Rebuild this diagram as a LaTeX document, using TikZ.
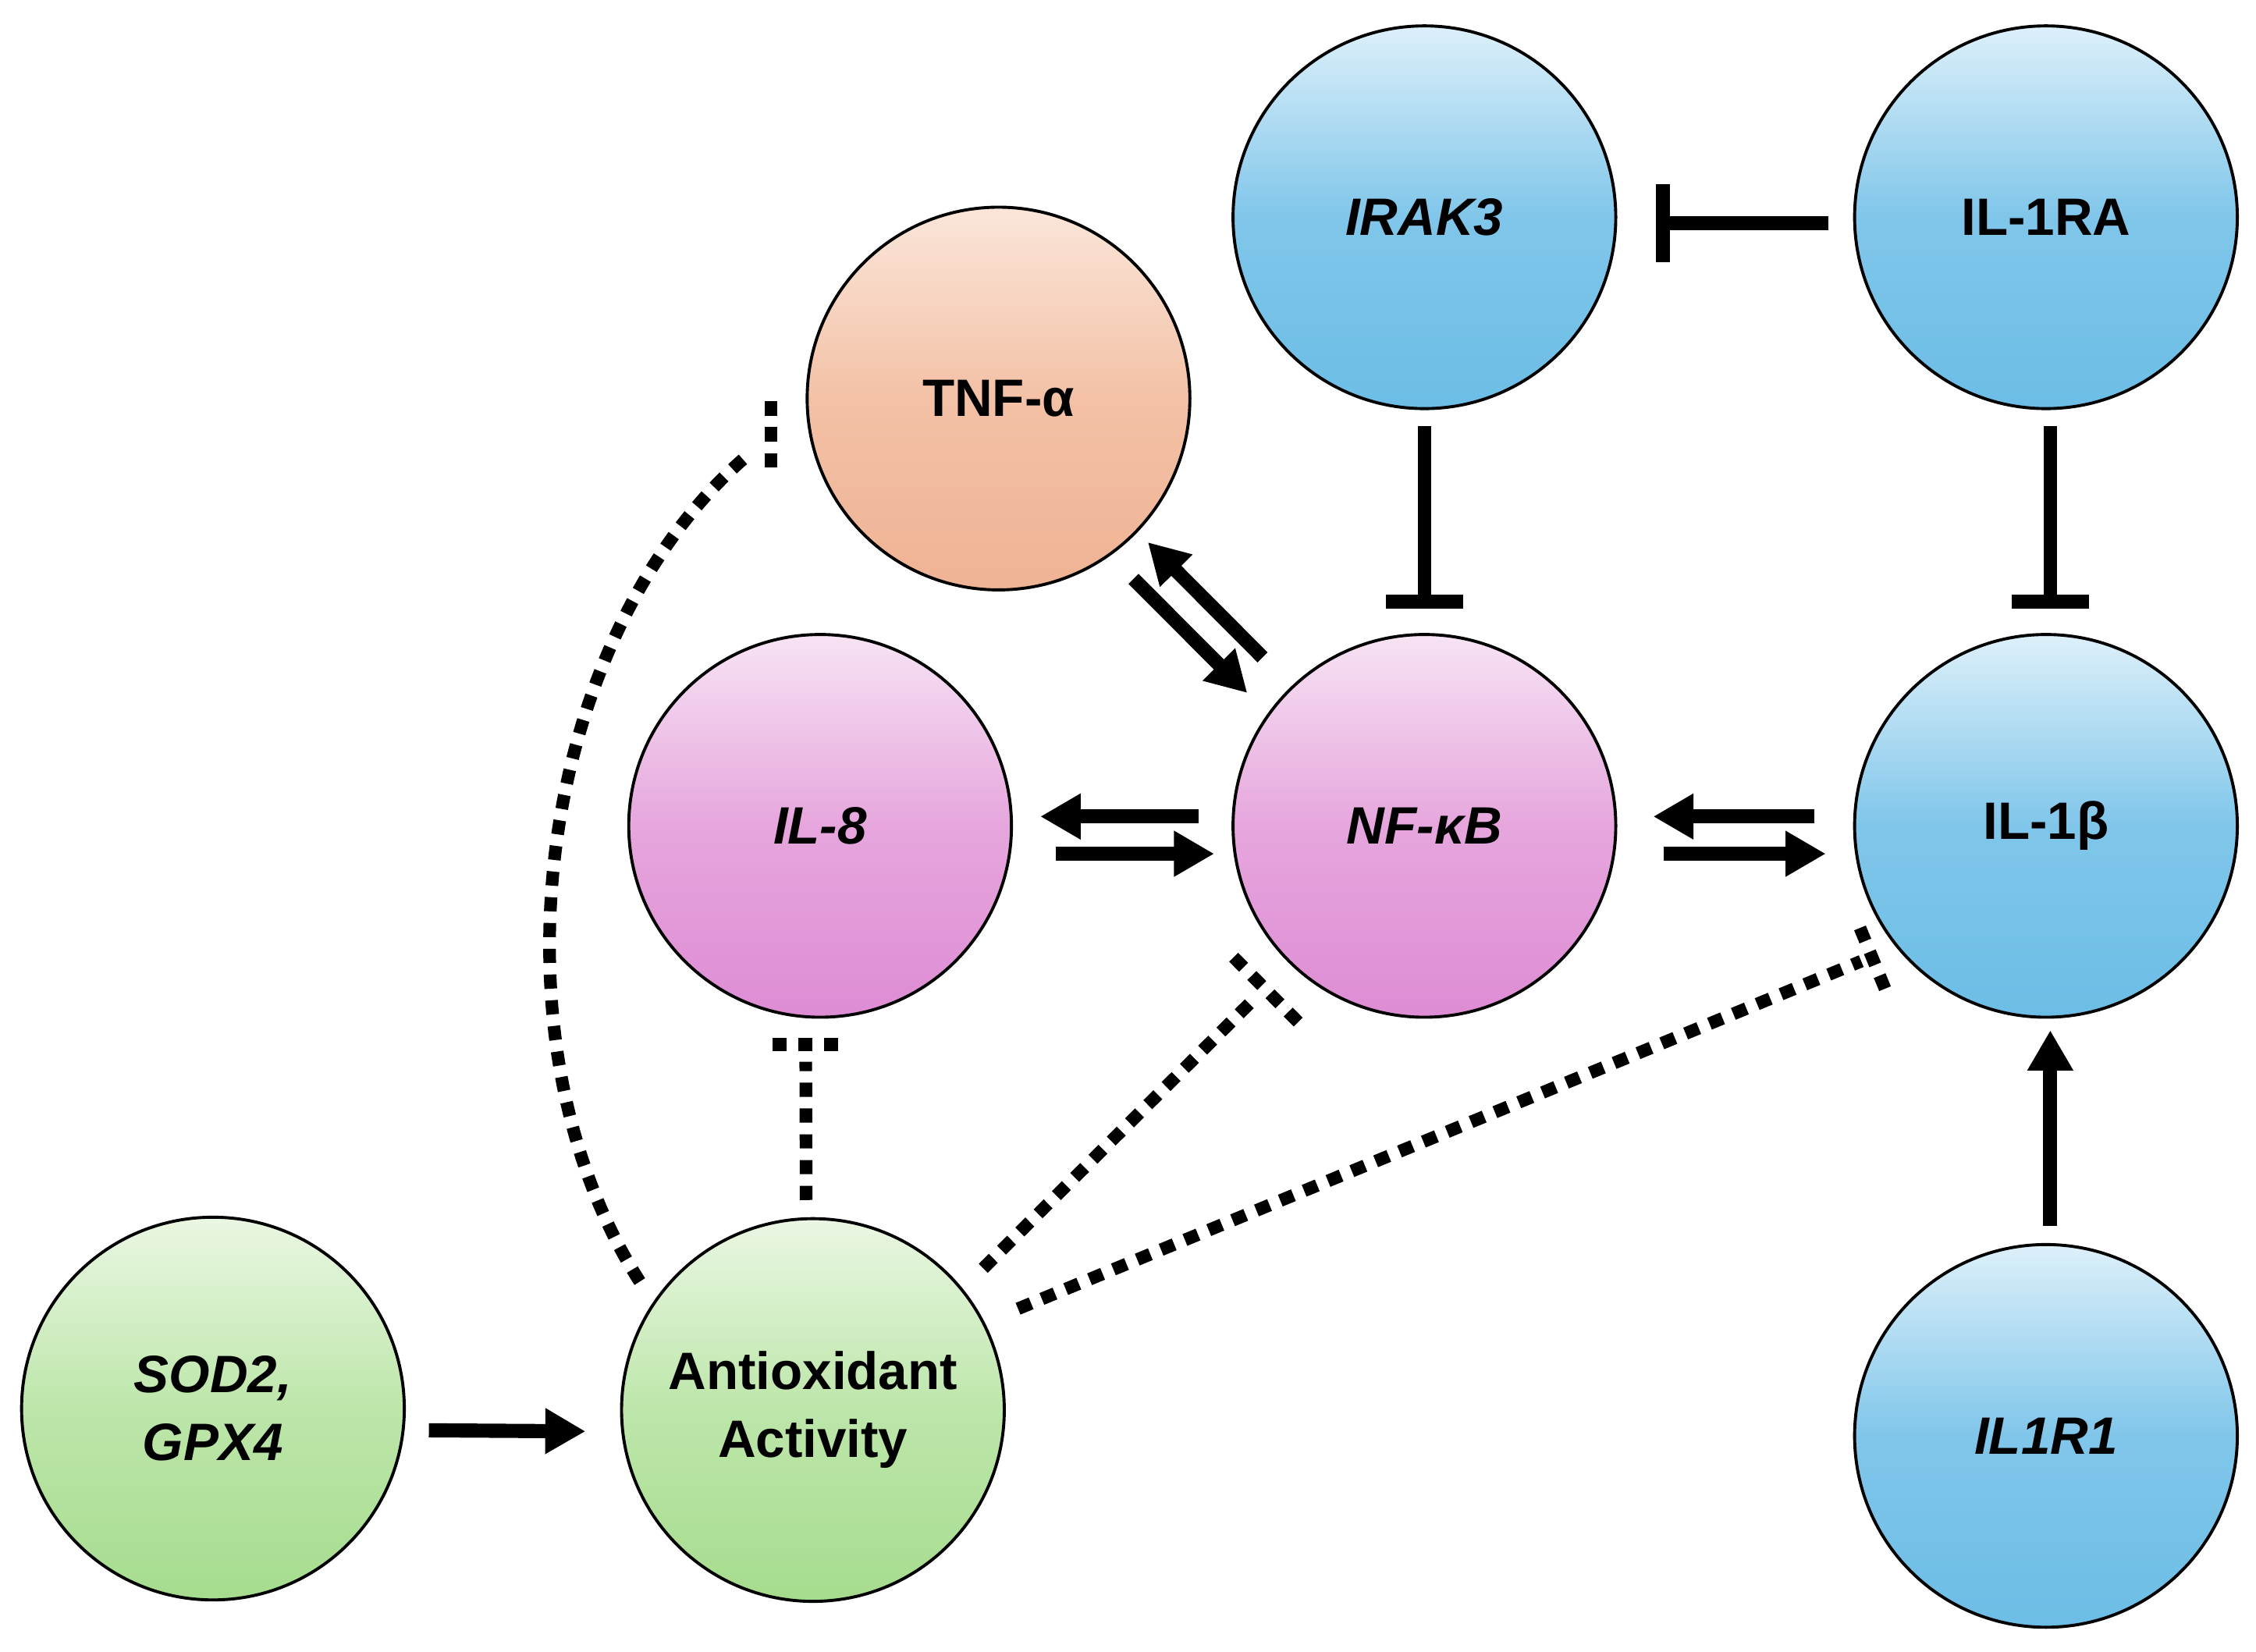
\documentclass[tikz,border=0pt]{standalone}
\usepackage{fontspec}
\setmainfont{Liberation Sans}
\usetikzlibrary{arrows.meta,calc}

\definecolor{blueTop}{HTML}{DDF0FA}
\definecolor{blueMid}{HTML}{80C6EA}
\definecolor{blueBot}{HTML}{6CBDE6}
\definecolor{orangeTop}{HTML}{FBE6DA}
\definecolor{orangeMid}{HTML}{F3C1A6}
\definecolor{orangeBot}{HTML}{EFB394}
\definecolor{pinkTop}{HTML}{F7E3F4}
\definecolor{pinkMid}{HTML}{E6A6DD}
\definecolor{pinkBot}{HTML}{DE8CD4}
\definecolor{greenTop}{HTML}{EAF7E3}
\definecolor{greenMid}{HTML}{BDE6AA}
\definecolor{greenBot}{HTML}{A6DC8E}

\begin{document}
\begin{tikzpicture}[
  gene/.style={circle, draw, line width=0.6pt, minimum size=2.66cm, inner sep=0pt,
    align=center, font=\bfseries\fontsize{10.4}{13.4}\selectfont},
  bluenode/.style={gene, top color=blueTop, bottom color=blueBot, middle color=blueMid},
  orangenode/.style={gene, top color=orangeTop, bottom color=orangeBot, middle color=orangeMid},
  pinknode/.style={gene, top color=pinkTop, bottom color=pinkBot, middle color=pinkMid},
  greennode/.style={gene, top color=greenTop, bottom color=greenBot, middle color=greenMid},
  fat/.style={line width=2.8pt, -{Triangle[length=0.28cm,width=0.3cm]}},
  block/.style={line width=2.7pt, -{Bar[width=0.54cm]}},
  dots/.style={line width=2.5pt, dash pattern=on 2.8pt off 2.3pt}
]

\useasboundingbox (0,0) rectangle (15.68,11.48);

\node [bluenode] (IRAK3) at (9.90,9.97) {\itshape IRAK3};
\node [bluenode] (IL1RA) at (14.22,9.97) {IL-1RA};
\node [orangenode] (TNF) at (6.94,8.71) {TNF-α};
\node [pinknode] (IL8) at (5.70,5.74) {\itshape IL-8};
\node [pinknode] (NFkB) at (9.90,5.74) {\itshape NF-κB};
\node [bluenode] (IL1b) at (14.22,5.74) {IL-1β};
\node [greennode] (SOD) at (1.48,1.69) {\itshape SOD2,\\ \itshape GPX4};
\node [greennode] (AOX) at (5.65,1.68) {Antioxidant\\Activity};
\node [bluenode] (IL1R1) at (14.22,1.50) {\itshape IL1R1};

\coordinate (tnfBar) at (5.36,8.45);
\coordinate (tnfEnd) at (5.19,8.31);
\coordinate (il8Bar) at (5.60,4.22);
\coordinate (nfBar) at (8.79,4.61);
\coordinate (il1bBar) at (13.01,4.83);

\draw [block, shorten <=0.17cm, shorten >=0.27cm] ([yshift=-0.04cm]IL1RA.west) -- ([yshift=-0.04cm]IRAK3.east);
\draw [block, shorten <=0.11cm, shorten >=0.17cm] (IRAK3.south) -- (NFkB.north);
\draw [block, shorten <=0.11cm, shorten >=0.17cm] ([xshift=0.03cm]IL1RA.south) -- ([xshift=0.03cm]IL1b.north);

\draw [fat, shorten <=0.23cm, shorten >=0.19cm] ([yshift=0.065cm]NFkB.west) -- ([yshift=0.065cm]IL8.east);
\draw [fat, shorten <=0.30cm, shorten >=0.12cm] ([yshift=-0.194cm]IL8.east) -- ([yshift=-0.194cm]NFkB.west);
\draw [fat, shorten <=0.27cm, shorten >=0.25cm] ([yshift=0.065cm]IL1b.west) -- ([yshift=0.065cm]NFkB.east);
\draw [fat, shorten <=0.32cm, shorten >=0.19cm] ([yshift=-0.194cm]NFkB.east) -- ([yshift=-0.194cm]IL1b.west);

\draw [fat] ($(TNF)!2.57cm!(NFkB)!0.03cm!90:(NFkB)$) -- ($(TNF)!1.44cm!(NFkB)!0.03cm!90:(NFkB)$);
\draw [fat] ($(TNF)!1.55cm!(NFkB)!0.22cm!-90:(NFkB)$) -- ($(TNF)!2.67cm!(NFkB)!0.22cm!-90:(NFkB)$);

\draw [fat, shorten <=0.12cm, shorten >=0.08cm] ([xshift=0.03cm]IL1R1.north) -- ([xshift=0.03cm]IL1b.south);
\draw [fat, shorten <=0.16cm, shorten >=0.24cm] ([yshift=-0.15cm]SOD.east) -- ([yshift=-0.15cm]AOX.west);

\draw [dots, shorten <=0.17cm] (AOX.146) .. controls (3.35,4.28) and (3.75,7.08) .. (tnfEnd);
\draw [dots] ($(tnfBar)+(0,0.24)$) -- ($(tnfBar)+(0,-0.24)$);

\draw [dots, shorten <=0.12cm, shorten >=0.12cm] (AOX.92) -- (il8Bar);
\draw [dots] ($(il8Bar)+(-0.23,0)$) -- ($(il8Bar)+(0.23,0)$);

\draw [dots, shorten <=0.2cm, shorten >=0.1cm] (AOX.39) -- (nfBar);
\draw [dots] ($(nfBar)!0.33cm!90:(AOX.39)$) -- ($(nfBar)!0.33cm!-90:(AOX.39)$);

\draw [dots, shorten <=0.25cm, shorten >=0.08cm] (AOX.27) -- (il1bBar);
\draw [dots] ($(il1bBar)!0.24cm!90:(AOX.27)$) -- ($(il1bBar)!0.24cm!-90:(AOX.27)$);

\end{tikzpicture}
\end{document}
